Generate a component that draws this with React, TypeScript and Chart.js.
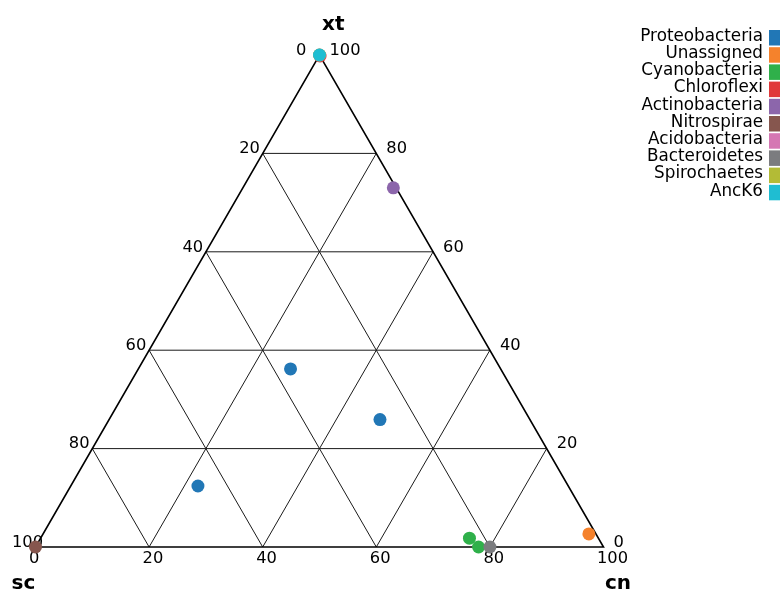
import { useEffect, useRef } from "react";
import { Chart, registerables } from "chart.js";
Chart.register(...registerables);

const categories = [
  "Proteobacteria", "Unassigned", "Cyanobacteria", "Chloroflexi", "Actinobacteria",
  "Nitrospirae", "Acidobacteria", "Bacteroidetes", "Spirochaetes", "AncK6",
];
const colors = [
  "#2177b6", "#f5822c", "#2fb04a", "#e0393a", "#8c66ab",
  "#86564e", "#d577b3", "#7b7c7f", "#b3bb36", "#1fbdd2",
];
const scValues = [[37.0, 26.4, 65.2], [1.25], [22.7, 22.0], [0], [0.5], [100], [0], [20], [0], [0]];
const cnValues = [[26.8, 47.7, 22.4], [96.1], [75.5, 78.0], [0.2], [26.5], [0], [0], [80], [0], [0]];
const xtValues = [[36.2, 25.9, 12.4], [2.65], [1.8, 0], [99.8], [73.0], [0], [100], [0], [100], [100]];
const tickValues = [0, 20, 40, 60, 80, 100];
const gridValues = [20, 40, 60, 80];
const titleTop = "xt";
const titleLeft = "sc";
const titleRight = "cn";

const R3 = Math.sqrt(3) / 2;
function toXY(sc: number, cn: number, xt: number) {
  const s = sc + cn + xt;
  const a = (cn / s) * 100;
  const b = (xt / s) * 100;
  return { x: a + b / 2, y: b * R3 };
}

const ternaryPlugin = {
  id: "ternary",
  beforeDatasetsDraw(chart: any) {
    const ctx = chart.ctx;
    const xs = chart.scales.x;
    const ys = chart.scales.y;
    const P = (sc: number, cn: number, xt: number) => {
      const p = toXY(sc, cn, xt);
      return [xs.getPixelForValue(p.x), ys.getPixelForValue(p.y)];
    };
    const line = (a: number[], b: number[]) => {
      ctx.beginPath();
      ctx.moveTo(a[0], a[1]);
      ctx.lineTo(b[0], b[1]);
      ctx.stroke();
    };
    ctx.save();
    ctx.strokeStyle = "#1a1a1a";
    ctx.lineWidth = 1;
    for (const v of gridValues) {
      line(P(100 - v, 0, v), P(0, 100 - v, v));
      line(P(100 - v, v, 0), P(0, v, 100 - v));
      line(P(v, 100 - v, 0), P(v, 0, 100 - v));
    }
    ctx.strokeStyle = "#000";
    ctx.lineWidth = 1.6;
    const A = P(100, 0, 0), B = P(0, 100, 0), C = P(0, 0, 100);
    ctx.beginPath();
    ctx.moveTo(A[0], A[1]);
    ctx.lineTo(B[0], B[1]);
    ctx.lineTo(C[0], C[1]);
    ctx.closePath();
    ctx.stroke();

    ctx.fillStyle = "#000";
    ctx.font = "16.3px 'DejaVu Sans'";
    ctx.textAlign = "left";
    ctx.textBaseline = "middle";
    for (const v of tickValues) {
      const l = P(v, 0, 100 - v);
      ctx.fillText(String(v), l[0] - 23.5, l[1] - 4.5);
      const r = P(0, 100 - v, v);
      ctx.fillText(String(v), r[0] + 10, r[1] - 4.5);
      const b = P(100 - v, v, 0);
      ctx.fillText(String(v), b[0] - 6.5, b[1] + 11.5);
    }
    ctx.font = "bold 20px 'DejaVu Sans'";
    ctx.textBaseline = "alphabetic";
    ctx.fillText(titleTop, C[0] + 2.5, C[1] - 25);
    ctx.fillText(titleLeft, A[0] - 24, A[1] + 42);
    ctx.fillText(titleRight, B[0] + 1.5, B[1] + 42);
    ctx.restore();
  },
  afterDraw(chart: any) {
    const ctx = chart.ctx;
    ctx.save();
    ctx.font = "16.8px 'DejaVu Sans'";
    ctx.textAlign = "right";
    ctx.textBaseline = "alphabetic";
    categories.forEach((name, i) => {
      ctx.fillStyle = "#000";
      ctx.fillText(name, 763, 40.7 + 17.2 * i);
      ctx.fillStyle = colors[i];
      ctx.fillRect(769, 30 + 17.2 * i, 11, 15.5);
    });
    ctx.restore();
  },
};

export default function App() {
  const ref = useRef<HTMLCanvasElement | null>(null);
  useEffect(() => {
    document.body.style.margin = "0";
    const canvas = ref.current!;
    const datasets = categories.map((name, i) => ({
      label: name,
      data: scValues[i].map((sc, j) => toXY(sc, cnValues[i][j], xtValues[i][j])),
      backgroundColor: colors[i],
      borderWidth: 0,
      pointRadius: 6.5,
      order: -i,
      clip: false as any,
    }));
    const chart = new Chart(canvas, {
      type: "scatter",
      data: { datasets },
      options: {
        animation: false,
        responsive: false,
        events: [],
        layout: { padding: { left: 35.5, right: 178.5, top: 55, bottom: 46 } },
        scales: {
          x: { type: "linear", min: 0, max: 100, display: false },
          y: { type: "linear", min: 0, max: 100 * R3, display: false },
        },
        plugins: { legend: { display: false }, tooltip: { enabled: false } },
      },
      plugins: [ternaryPlugin],
    });
    return () => chart.destroy();
  }, []);
  return <canvas ref={ref} width={782} height={593} style={{ display: "block" }} />;
}
